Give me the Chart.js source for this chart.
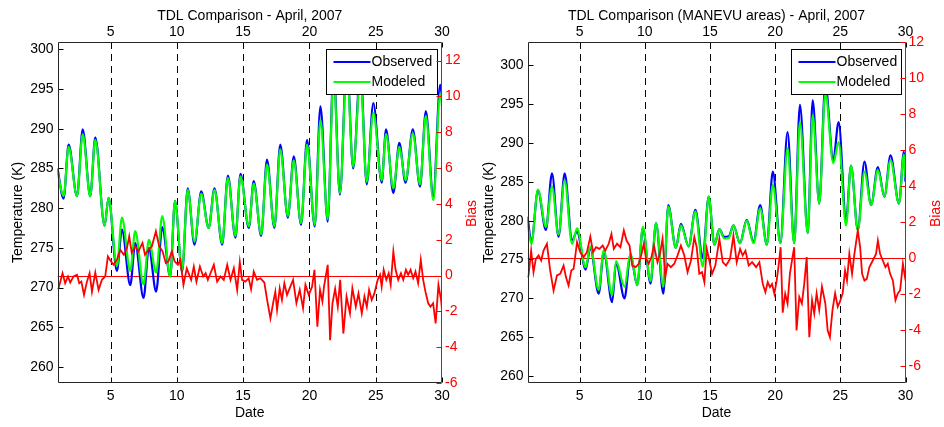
<!DOCTYPE html>
<html><head><meta charset="utf-8">
<script src="https://cdn.jsdelivr.net/npm/chart.js"></script>
<style>
html,body{margin:0;padding:0;background:#fff;width:944px;height:427px;overflow:hidden}
canvas{position:absolute;top:0}
#c1{left:0}
#c2{left:476px}
</style></head><body>
<canvas id="c1" width="482" height="427"></canvas>
<canvas id="c2" width="468" height="427"></canvas>
<script>
// ---------- tick labels ----------
const dateTicks = [5, 10, 15, 20, 25, 30];
const dashDays = [5, 10, 15, 20, 25];
const tempTicks = [260, 265, 270, 275, 280, 285, 290, 295, 300];
const biasTicks = [-6, -4, -2, 0, 2, 4, 6, 8, 10, 12];
const seriesNames = ['Observed', 'Modeled', 'Bias'];

// ---------- left panel: all TDL ----------
const leftDays = [1.0, 1.46, 1.84, 2.47, 2.9, 3.47, 3.85, 4.55, 4.85, 5.48,
  5.86, 6.49, 6.86, 7.49, 7.89, 8.44, 8.9, 9.5, 9.86, 10.4,
  10.82, 11.33, 11.84, 12.4, 12.84, 13.42, 13.85, 14.42, 14.8, 15.43,
  15.8, 16.36, 16.8, 17.36, 17.8, 18.37, 18.82, 19.37, 19.82, 20.4,
  20.83, 21.38, 21.82, 22.3, 22.82, 23.3, 23.85, 24.32, 24.82, 25.45,
  25.78, 26.33, 26.78, 27.25, 27.8, 28.34, 28.78, 29.34, 29.86, 30];
const leftObs = [285.0, 281.2, 288.0, 281.5, 289.9, 281.5, 288.9, 277.8, 281.3, 272.1,
  277.3, 270.3, 275.6, 268.7, 275.0, 269.5, 277.6, 271.4, 280.9, 272.0,
  282.5, 275.4, 282.1, 277.5, 282.5, 275.4, 284.1, 276.3, 284.3, 277.5,
  283.4, 276.5, 286.1, 277.5, 288.0, 278.8, 286.5, 277.9, 288.6, 277.7,
  292.8, 278.3, 297.5, 281.7, 298.5, 285.0, 297.5, 283.0, 293.2, 283.2,
  289.9, 281.9, 288.2, 283.2, 289.9, 282.7, 292.2, 281.5, 295.5, 294.0];
const leftMod = [284.5, 281.5, 287.7, 281.5, 289.3, 281.5, 288.6, 277.8, 281.3, 272.7,
  278.8, 272.1, 277.1, 270.4, 276.0, 271.9, 279.0, 271.4, 280.9, 272.2,
  282.3, 275.8, 281.8, 277.5, 282.3, 275.6, 283.8, 276.5, 284.0, 277.7,
  283.1, 276.7, 285.5, 277.7, 287.4, 279.0, 286.0, 278.1, 288.0, 277.9,
  291.1, 278.6, 296.5, 281.9, 297.5, 285.2, 296.5, 283.3, 292.0, 283.5,
  289.3, 282.5, 287.7, 283.5, 289.4, 283.0, 291.6, 281.0, 294.3, 293.0];
const leftBiasDays = [1.0, 1.08, 1.38, 1.58, 1.79, 1.96, 2.21, 2.47, 2.64, 2.8,
  3.0, 3.22, 3.42, 3.6, 3.85, 4.1, 4.35, 4.6, 4.8, 4.95,
  5.23, 5.48, 5.73, 6.0, 6.24, 6.41, 6.6, 6.86, 7.1, 7.41,
  7.6, 7.85, 8.12, 8.42, 8.67, 8.92, 9.17, 9.37, 9.63, 9.83,
  10.08, 10.26, 10.5, 10.75, 11.08, 11.28, 11.48, 11.74, 11.99, 12.17,
  12.34, 12.54, 12.79, 13.04, 13.29, 13.54, 13.8, 14.05, 14.3, 14.55,
  14.75, 14.92, 15.17, 15.42, 15.6, 15.8, 16.05, 16.3, 16.6, 16.81,
  17.06, 17.26, 17.43, 17.56, 17.76, 17.93, 18.11, 18.31, 18.56, 18.77,
  19.02, 19.27, 19.52, 19.7, 19.95, 20.2, 20.38, 20.6, 20.8, 20.98,
  21.1, 21.38, 21.56, 21.74, 21.94, 22.14, 22.32, 22.56, 22.8, 23.06,
  23.24, 23.5, 23.7, 23.95, 24.15, 24.33, 24.5, 24.7, 24.9, 25.15,
  25.33, 25.45, 25.6, 25.8, 25.98, 26.13, 26.33, 26.5, 26.7, 26.9,
  27.08, 27.28, 27.45, 27.63, 27.83, 28.0, 28.2, 28.4, 28.58, 28.75,
  28.96, 29.13, 29.33, 29.52, 29.73, 29.93, 30.0];
const leftBias = [-0.75, -0.71, 0.13, -0.43, -0.05, -0.39, -0.05, 0.04, -0.43, -0.34,
  -1.08, -0.34, 0.13, -0.9, 0.17, -0.8, -0.24, -0.05, 1.07, 0.88,
  0.6, 0.88, 1.44, 1.16, 1.54, 2.19, 1.26, 1.63, 1.35, 1.82,
  1.16, 1.44, 1.63, 2.47, 1.63, 1.35, 0.7, 0.79, 1.35, 0.79,
  0.6, 0.88, -0.52, 0.4, -0.24, 0.5, -0.34, 0.5, -0.05, 0.13,
  -0.24, 0.13, 0.6, -0.34, -0.05, -0.24, 0.6, -0.24, 0.41, -0.8,
  0.76, -0.24, -0.34, -0.15, -0.77, 0.22, -0.24, -0.15, -0.39, -1.36,
  -2.39, -1.54, -0.9, -1.92, -0.71, -1.36, -0.43, -1.08, -0.62, -0.24,
  -1.54, -0.8, -1.82, -0.52, -1.08, -0.62, 0.32, -2.86, -0.8, -1.45,
  -0.62, 0.6, -3.61, -1.55, -0.74, -1.74, -0.24, -3.24, -1.17, -2.11,
  -0.71, -1.74, -1.0, -2.11, -1.17, -1.74, -0.8, -1.36, -1.0, -0.24,
  0.04, -0.62, 0.32, -0.24, 0.13, -0.52, 1.35, 0.32, -0.24, 0.13,
  -0.24, 0.32, 0.04, 0.32, -0.15, 0.22, -0.43, 0.88, -0.24, -0.9,
  -1.55, -1.74, -1.55, -2.67, -0.52, -1.36, -1.9];

// ---------- right panel: MANEVU areas ----------
const rightDays = [1.0, 1.3, 1.8, 2.41, 2.88, 3.38, 3.85, 4.42, 4.8, 5.46,
  5.82, 6.46, 6.85, 7.49, 7.8, 8.44, 8.9, 9.42, 9.85, 10.44,
  10.86, 11.42, 11.8, 12.38, 12.77, 13.36, 13.88, 14.44, 14.9, 15.34,
  15.72, 16.1, 16.45, 16.8, 17.3, 17.82, 18.34, 18.85, 19.36, 19.82,
  20.4, 20.95, 21.46, 21.9, 22.5, 22.88, 23.38, 23.85, 24.46, 24.87,
  25.44, 25.82, 26.34, 26.85, 27.36, 27.88, 28.38, 28.85, 29.5, 29.88, 30];
const rightObs = [280.5, 277.3, 283.9, 278.8, 286.1, 277.9, 286.1, 277.5, 278.6, 273.7,
  276.5, 270.6, 276.0, 269.5, 274.6, 270.0, 275.6, 271.7, 279.0, 271.9,
  279.7, 270.6, 282.0, 276.5, 279.6, 276.7, 281.4, 275.2, 283.1, 276.9,
  278.9, 277.9, 278.0, 279.4, 277.1, 280.1, 277.3, 282.0, 276.9, 286.3,
  277.1, 291.4, 277.1, 294.9, 278.4, 295.5, 282.2, 297.5, 287.8, 292.7,
  280.1, 287.1, 278.8, 287.6, 282.0, 286.9, 283.1, 288.4, 282.2, 288.9, 285.0];
const rightMod = [279.6, 277.0, 284.0, 279.2, 284.4, 278.2, 285.2, 277.0, 279.0, 274.0,
  276.7, 271.1, 276.2, 270.4, 274.8, 271.5, 275.8, 271.7, 279.2, 272.2,
  279.7, 271.5, 281.8, 276.5, 279.4, 276.7, 281.2, 274.1, 283.1, 276.9,
  278.9, 277.7, 277.8, 279.4, 277.1, 280.0, 277.1, 281.6, 276.9, 284.6,
  277.1, 289.3, 277.1, 292.7, 278.4, 293.6, 282.2, 296.5, 287.4, 290.1,
  279.4, 287.1, 278.8, 286.3, 282.0, 286.5, 283.1, 287.8, 282.2, 288.5, 285.5];
const rightBiasDays = [1.0, 1.08, 1.28, 1.46, 1.64, 1.85, 2.05, 2.23, 2.49, 2.74,
  3.0, 3.26, 3.51, 3.77, 3.95, 4.15, 4.36, 4.54, 4.8, 5.05,
  5.3, 5.56, 5.82, 6.03, 6.26, 6.51, 6.77, 6.97, 7.23, 7.44,
  7.62, 7.87, 8.13, 8.39, 8.6, 8.83, 9.03, 9.29, 9.54, 9.75,
  9.92, 10.1, 10.3, 10.51, 10.7, 10.97, 11.16, 11.36, 11.57, 11.74,
  12.0, 12.26, 12.51, 12.77, 13.03, 13.28, 13.54, 13.8, 13.98, 14.18,
  14.39, 14.57, 14.75, 14.95, 15.16, 15.41, 15.72, 15.98, 16.23, 16.54,
  16.8, 17.05, 17.31, 17.51, 17.72, 17.97, 18.23, 18.54, 18.79, 19.05,
  19.25, 19.43, 19.6, 19.76, 19.94, 20.12, 20.28, 20.42, 20.58, 20.77,
  20.95, 21.13, 21.33, 21.46, 21.64, 21.85, 22.05, 22.23, 22.42, 22.62,
  22.83, 23.0, 23.18, 23.38, 23.59, 23.85, 24.03, 24.2, 24.4, 24.6,
  24.8, 24.97, 25.18, 25.36, 25.51, 25.69, 25.9, 26.08, 26.34, 26.52,
  26.67, 26.85, 27.03, 27.23, 27.49, 27.74, 27.88, 28.05, 28.26, 28.46,
  28.64, 28.82, 29.03, 29.23, 29.41, 29.59, 29.8, 30.0];
const rightBias = [-1.1, -0.98, 0.4, -0.8, -0.06, 0.13, -0.15, 0.4, 0.78, -0.7,
  -1.82, -0.98, -0.89, -0.43, -1.07, -1.54, -0.7, -0.61, 0.87, 0.31,
  0.04, 0.31, 1.18, 0.31, 0.59, 0.5, 0.68, 0.4, 0.78, 1.33,
  0.5, 0.78, 0.59, 1.52, 0.96, 0.68, -0.43, -0.52, -0.33, 0.22,
  0.78, -0.06, -0.33, 0.04, 0.68, -0.24, 0.22, 1.05, -1.07, -0.33,
  -0.52, -0.33, 0.13, 0.68, 0.13, -0.8, -0.15, 1.15, 0.59, -0.89,
  -0.8, -1.35, 0.5, -0.15, -0.89, -0.43, 1.05, -0.24, -0.43, -0.06,
  1.24, -0.24, 0.5, 0.13, 0.4, -0.43, -0.24, -0.52, -0.24, -1.45,
  -1.91, -1.35, -1.63, -1.45, -2.0, -1.26, -0.33, 0.59, -3.05, -2.0,
  -2.54, -0.89, 0.04, 0.59, -4.04, -2.17, -2.54, -1.45, 0.04, -4.41,
  -2.35, -3.1, -1.98, -2.9, -1.6, -2.54, -4.04, -4.41, -2.9, -1.98,
  -2.72, -2.44, -1.98, -0.7, -1.26, 0.22, -0.89, 0.22, 1.52, 0.59,
  -0.89, -1.26, -1.17, -0.52, -0.15, 0.22, 0.96, 0.22, -0.15, -0.52,
  -0.33, -0.89, -1.26, -2.35, -1.98, -1.8, -0.33, -1.26];

// ---------- helpers ----------
const FONT = "'Liberation Sans', Arial, Helvetica, sans-serif";
function fixedTicks(arr) { return function (scale) { scale.ticks = arr.map(v => ({ value: v })); }; }
function pts(xs, ys) { return xs.map((x, i) => ({ x: x, y: ys[i] })); }

const decor = {
  id: 'decor',
  beforeDatasetsDraw(chart, args, o) {
    const { ctx, chartArea: a, scales: s } = chart;
    ctx.save();
    ctx.beginPath(); ctx.rect(a.left, a.top, a.right - a.left, a.bottom - a.top); ctx.clip();
    ctx.strokeStyle = '#000'; ctx.lineWidth = 1; ctx.setLineDash([7, 5]);
    dashDays.forEach(d => {
      const x = Math.round(s.x.getPixelForValue(d)) + 0.5;
      ctx.beginPath(); ctx.moveTo(x, a.top); ctx.lineTo(x, a.bottom); ctx.stroke();
    });
    ctx.setLineDash([]);
    const y0 = Math.round(s.y2.getPixelForValue(0)) + 0.5;
    ctx.strokeStyle = '#ff0000';
    ctx.beginPath(); ctx.moveTo(a.left, y0); ctx.lineTo(a.right, y0); ctx.stroke();
    ctx.restore();
  },
  afterDatasetsDraw(chart, args, o) {
    const { ctx, chartArea: a, scales: s } = chart;
    const L = Math.round(a.left) + 0.5, R = Math.round(a.right) - 0.5;
    const T = Math.round(a.top) + 0.5, B = Math.round(a.bottom) - 0.5;
    ctx.save();
    ctx.lineWidth = 1; ctx.setLineDash([]);
    // legend box
    const bx = Math.round(a.right - o.legendW - 5) + 0.5, by = Math.round(a.top + 7) + 0.5;
    ctx.fillStyle = '#fff'; ctx.fillRect(bx, by, o.legendW, 45);
    ctx.strokeStyle = '#000'; ctx.strokeRect(bx, by, o.legendW, 45);
    ctx.font = '14px ' + FONT; ctx.textBaseline = 'middle'; ctx.textAlign = 'left';
    [0, 1].forEach(i => {
      const ds = chart.data.datasets.find(d => d.label === seriesNames[i]);
      const ly = by + 12.5 + i * 20;
      ctx.strokeStyle = ds.borderColor; ctx.lineWidth = 2;
      ctx.beginPath(); ctx.moveTo(bx + 7, ly); ctx.lineTo(bx + 44, ly); ctx.stroke();
      ctx.fillStyle = '#000'; ctx.fillText(ds.label, bx + 45, ly + 0.5);
    });
    ctx.lineWidth = 1;
    // ticks (inward)
    ctx.strokeStyle = '#000';
    ctx.beginPath();
    tempTicks.forEach(v => {
      const y = Math.round(s.y.getPixelForValue(v)) + 0.5;
      if (y > a.top && y < a.bottom) { ctx.moveTo(L, y); ctx.lineTo(L + 5, y); }
    });
    dateTicks.forEach(v => {
      const x = Math.round(s.x.getPixelForValue(v)) + 0.5;
      ctx.moveTo(x, B); ctx.lineTo(x, B - 5); ctx.moveTo(x, T); ctx.lineTo(x, T + 5);
    });
    ctx.stroke();
    // frame
    ctx.strokeStyle = '#262626';
    ctx.beginPath(); ctx.moveTo(R, T); ctx.lineTo(L, T); ctx.lineTo(L, B); ctx.lineTo(R, B); ctx.stroke();
    ctx.strokeStyle = '#ff0000';
    ctx.beginPath(); ctx.moveTo(R, T); ctx.lineTo(R, B);
    biasTicks.forEach(v => {
      const y = Math.round(s.y2.getPixelForValue(v)) + 0.5;
      ctx.moveTo(R, y); ctx.lineTo(R - 5, y);
    });
    ctx.stroke();
    // right axis title
    ctx.fillStyle = '#ff0000'; ctx.font = '14px ' + FONT;
    ctx.textAlign = 'center'; ctx.textBaseline = 'middle';
    ctx.translate(a.right + o.biasOffset, (a.top + a.bottom) / 2 + 1);
    ctx.rotate(-Math.PI / 2);
    ctx.fillText('Bias', 0, 0);
    ctx.restore();
  }
};

function makeChart(id, cfg) {
  const tickFont = { family: FONT, size: 14 };
  return new Chart(document.getElementById(id), {
    type: 'line',
    data: {
      datasets: [
        { label: seriesNames[2], data: pts(cfg.biasDays, cfg.bias), yAxisID: 'y2', xAxisID: 'x',
          borderColor: '#ff0000', borderWidth: 1.8, pointRadius: 0, tension: 0, order: 1 },
        { label: seriesNames[1], data: pts(cfg.days, cfg.mod), yAxisID: 'y', xAxisID: 'x',
          borderColor: '#00ff00', borderWidth: 2.2, pointRadius: 0, cubicInterpolationMode: 'monotone', order: 2 },
        { label: seriesNames[0], data: pts(cfg.days, cfg.obs), yAxisID: 'y', xAxisID: 'x',
          borderColor: '#0000ff', borderWidth: 2.2, pointRadius: 0, cubicInterpolationMode: 'monotone', order: 3 }
      ]
    },
    options: {
      responsive: false, animation: false, devicePixelRatio: 1,
      layout: { padding: 0 },
      plugins: { legend: { display: false }, tooltip: { enabled: false }, title: { display: false },
        decor: { legendW: cfg.legendW, biasOffset: cfg.biasOffset } },
      scales: {
        x: { type: 'linear', position: 'bottom', min: 1, max: 30, afterBuildTicks: fixedTicks(dateTicks),
          grid: { display: false, drawTicks: false }, border: { display: false },
          ticks: { color: '#000', font: tickFont, padding: 5, maxRotation: 0, autoSkip: false },
          title: { display: true, text: 'Date', color: '#000', font: tickFont, padding: { top: 0, bottom: 5 } },
          afterFit: sc => { sc.height = 44; } },
        x2: { type: 'linear', position: 'top', min: 1, max: 30, afterBuildTicks: fixedTicks(dateTicks),
          grid: { display: false, drawTicks: false }, border: { display: false },
          ticks: { color: '#000', font: tickFont, padding: 1, maxRotation: 0, autoSkip: false },
          title: { display: true, text: cfg.title, color: '#000', font: tickFont, padding: { top: 8, bottom: 0 } },
          afterFit: sc => { sc.height = 42; } },
        y: { position: 'left', min: cfg.tMin, max: cfg.tMax, afterBuildTicks: fixedTicks(tempTicks),
          grid: { display: false, drawTicks: false }, border: { display: false },
          ticks: { color: '#000', font: tickFont, padding: 4 },
          title: { display: true, text: 'Temperature (K)', color: '#000', font: tickFont, padding: { top: cfg.tempPad, bottom: 0 } },
          afterFit: sc => { sc.width = cfg.leftW; } },
        y2: { position: 'right', min: cfg.bMin, max: cfg.bMax, afterBuildTicks: fixedTicks(biasTicks),
          grid: { display: false, drawTicks: false }, border: { display: false },
          ticks: { color: '#ff0000', font: tickFont, padding: 3 },
          afterFit: sc => { sc.width = cfg.rightW; } }
      }
    },
    plugins: [decor]
  });
}

makeChart('c1', { days: leftDays, obs: leftObs, mod: leftMod, biasDays: leftBiasDays, bias: leftBias,
  title: 'TDL Comparison - April, 2007', tMin: 258, tMax: 300.9, bMin: -6, bMax: 13.04,
  leftW: 57.5, rightW: 40, tempPad: 10, legendW: 111, biasOffset: 30 });
makeChart('c2', { days: rightDays, obs: rightObs, mod: rightMod, biasDays: rightBiasDays, bias: rightBias,
  title: 'TDL Comparison (MANEVU areas) - April, 2007', tMin: 259.1, tMax: 303, bMin: -6.96, bMax: 12,
  leftW: 51.5, rightW: 38.5, tempPad: 5, legendW: 110, biasOffset: 30.5 });
</script>
</body></html>
